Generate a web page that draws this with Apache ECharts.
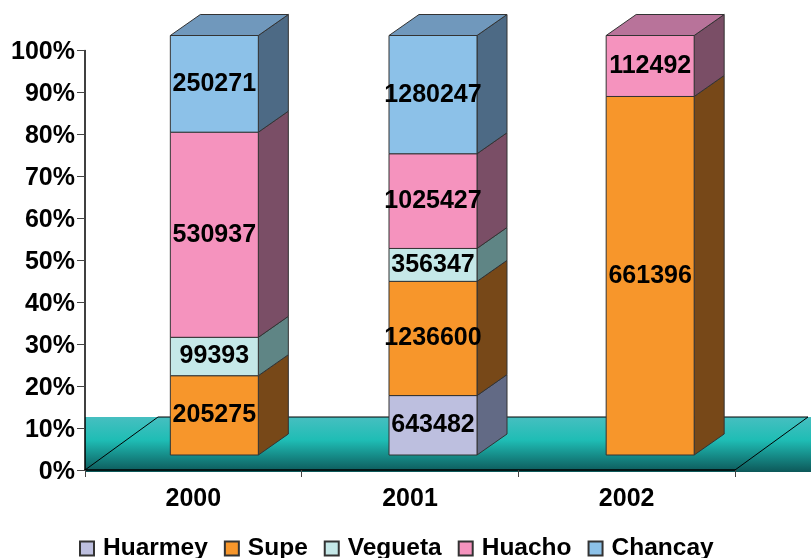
<!DOCTYPE html>
<html>
<head>
<meta charset="utf-8">
<style>
  html, body { margin: 0; padding: 0; background: #ffffff; }
  #chart { width: 811px; height: 558px; }
</style>
<script src="https://cdn.jsdelivr.net/npm/echarts@6/dist/echarts.min.js"></script>
</head>
<body>
<div id="chart"></div>
<script>
const years = ['2000', '2001', '2002'];
const huarmey = [0, 643482, 0];
const supe = [205275, 1236600, 661396];
const vegueta = [99393, 356347, 0];
const huacho = [530937, 1025427, 112492];
const chancay = [250271, 1280247, 0];

const FONT = '"Liberation Sans", Arial, sans-serif';
const LABEL_SIZE = 25;

// offsets of the 3D box in pixels
const SHIFT = { x: 22, y: -15 };
const DEPTH = { x: 30, y: -21 };
const BAR_WIDTH = 88;
const BAR_NUDGE = [-1, 1, 1.5];
const EDGE = '#333333';

const stacks = [
  { name: 'Huarmey', data: huarmey, front: '#bdbfdf', side: '#626a85', top: '#9a9cc0' },
  { name: 'Supe', data: supe, front: '#f7962b', side: '#774818', top: '#c07a28' },
  { name: 'Vegueta', data: vegueta, front: '#c5e8e8', side: '#5f8585', top: '#a0c0c0' },
  { name: 'Huacho', data: huacho, front: '#f593be', side: '#7a4e66', top: '#b8739a' },
  { name: 'Chancay', data: chancay, front: '#8cc1e8', side: '#4d6a85', top: '#7098bc' },
];

const totals = years.map((_, i) => stacks.reduce((sum, s) => sum + s.data[i], 0));

function lastStack(i) {
  let last = 0;
  stacks.forEach((s, k) => { if (s.data[i] > 0) last = k; });
  return last;
}

function segmentSeries(s, k) {
  const rows = years.map((_, i) => {
    const below = stacks.slice(0, k).reduce((sum, o) => sum + o.data[i], 0);
    return [i, (below / totals[i]) * 100, ((below + s.data[i]) / totals[i]) * 100, s.data[i]];
  }).filter((r) => r[3] > 0);
  return {
    name: s.name,
    type: 'custom',
    z: 3,
    itemStyle: { color: s.front, borderColor: EDGE, borderWidth: 1 },
    encode: { x: 0, y: [1, 2] },
    data: rows,
    renderItem(params, api) {
      const i = api.value(0);
      const low = api.coord([i, api.value(1)]);
      const high = api.coord([i, api.value(2)]);
      const cx = low[0] + SHIFT.x + BAR_NUDGE[i];
      const x0 = cx - BAR_WIDTH / 2;
      const x1 = cx + BAR_WIDTH / 2;
      const y0 = low[1] + SHIFT.y;
      const y1 = high[1] + SHIFT.y;
      const line = { stroke: EDGE, lineWidth: 1 };
      const children = [
        { type: 'polygon', shape: { points: [[x1, y0], [x1 + DEPTH.x, y0 + DEPTH.y], [x1 + DEPTH.x, y1 + DEPTH.y], [x1, y1]] }, style: { fill: s.side, ...line } },
        { type: 'rect', shape: { x: x0, y: y1, width: BAR_WIDTH, height: y0 - y1 }, style: { fill: s.front, ...line } },
      ];
      if (lastStack(i) === k) {
        children.push({ type: 'polygon', shape: { points: [[x0, y1], [x0 + DEPTH.x, y1 + DEPTH.y], [x1 + DEPTH.x, y1 + DEPTH.y], [x1, y1]] }, style: { fill: s.top, ...line } });
      }
      children.push({
        type: 'text',
        z2: 50,
        style: {
          x: cx, y: (y0 + y1) / 2, text: String(api.value(3)),
          font: `bold ${LABEL_SIZE}px ${FONT}`, fill: '#000000', align: 'center', verticalAlign: 'middle',
        },
      });
      return { type: 'group', children };
    },
  };
}

// the teal floor behind the bars
const floorSeries = {
  type: 'custom',
  z: 0,
  silent: true,
  data: [[0, 0]],
  renderItem(params, api) {
    const o = api.coord([0, 0]);
    const left = params.coordSys.x;
    const right = left + params.coordSys.width;
    const y = o[1];
    const band = new echarts.graphic.LinearGradient(0, 0, 0, 1, [
      { offset: 0, color: '#46bfc0' },
      { offset: 0.42, color: '#1fbdb5' },
      { offset: 1, color: '#0d5859' },
    ]);
    const line = { stroke: '#000000', lineWidth: 1, fill: 'none' };
    return {
      type: 'group',
      children: [
        { type: 'rect', shape: { x: left, y: y - 53, width: 811 - left, height: 55 }, style: { fill: band } },
        { type: 'polyline', shape: { points: [[left, y], [left + 73, y - 53], [right + 73, y - 53], [right, y]] }, style: line },
      ],
    };
  },
};

const option = {
  animation: false,
  backgroundColor: '#ffffff',
  textStyle: { fontFamily: FONT },
  grid: { left: 85, right: 76, top: 50.5, bottom: 88, containLabel: false },
  legend: {
    left: 74,
    top: 531,
    data: stacks.map((s) => s.name),
    icon: 'rect',
    itemWidth: 14,
    itemHeight: 14,
    itemGap: 16,
    textStyle: { fontFamily: FONT, fontWeight: 'bold', fontSize: 24.5, color: '#000000', padding: [0, 0, 0, 4] },
  },
  xAxis: {
    type: 'category',
    data: years,
    z: 2,
    axisLine: { lineStyle: { color: '#000000', width: 1.5 } },
    axisTick: { show: true, length: 7, lineStyle: { color: '#444444' } },
    axisLabel: { color: '#000000', fontWeight: 'bold', fontSize: LABEL_SIZE, margin: 17, fontFamily: FONT },
    splitLine: { show: false },
  },
  yAxis: {
    type: 'value',
    min: 0,
    max: 100,
    interval: 10,
    z: 2,
    axisLine: { show: true, lineStyle: { color: '#000000', width: 1.5 } },
    axisTick: { show: true, length: 8, lineStyle: { color: '#444444' } },
    axisLabel: { color: '#000000', fontWeight: 'bold', fontSize: LABEL_SIZE, margin: 10, verticalAlign: 'top', lineHeight: 4, formatter: '{value}%', fontFamily: FONT },
    splitLine: { show: false },
  },
  series: [floorSeries, ...stacks.map(segmentSeries)],
};

echarts.init(document.getElementById('chart'), null, { renderer: 'canvas' }).setOption(option);
</script>
</body>
</html>
